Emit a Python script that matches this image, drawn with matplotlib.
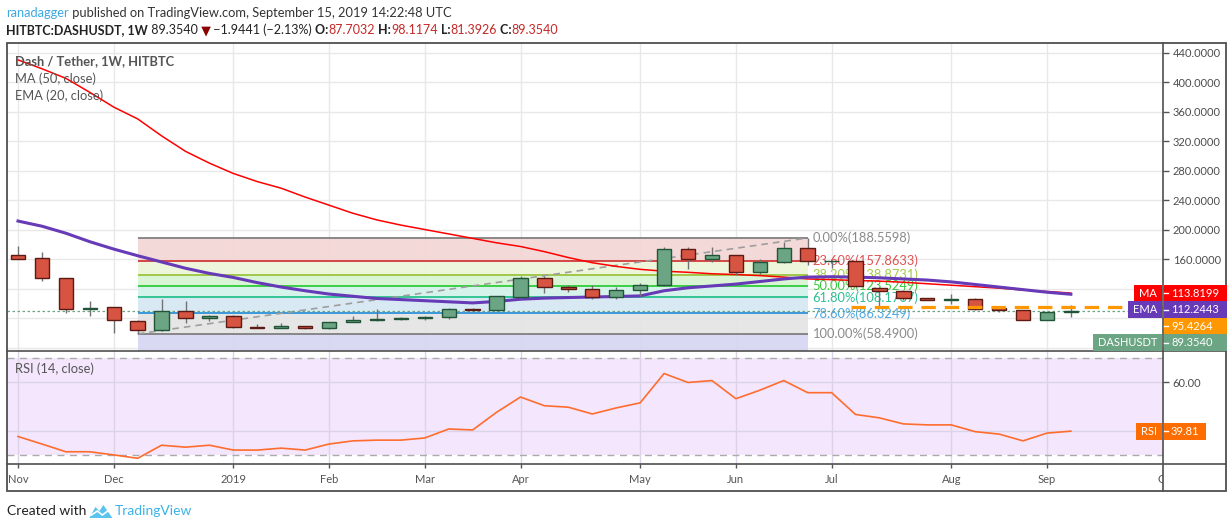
import matplotlib
matplotlib.use("Agg")

import matplotlib.pyplot as plt
import numpy as np
from matplotlib.lines import Line2D
from matplotlib.patches import Polygon, Rectangle
from matplotlib.transforms import Bbox

W, H = 1232, 528

# weekly candles, first bar = week of 5 Nov 2018, last = week of 9 Sep 2019
opens = [165, 161, 134, 92, 94.5, 76, 63.5, 89, 79.5, 82.5,
         67.8, 67, 69, 66, 74, 78, 78.5, 79.5, 81, 92,
         90.5, 109, 134, 121.5, 120, 109, 117.5, 124.5, 173, 160.5,
         165, 142, 155.5, 174.5, 157, 157, 121, 117, 107, 105,
         105.5, 93.5, 90.5, 78, 87.7032]
highs = [177, 169.5, 134.5, 103, 95, 77, 106, 103, 84.5, 84.5,
         72, 73, 69.5, 74.5, 82.5, 92, 82, 82.5, 93, 93.5,
         110, 137.5, 137.5, 125, 124.5, 122.5, 127.5, 176, 176, 176,
         166, 159.5, 183, 188.5598, 159, 158, 122.5, 118, 107.5, 112.5,
         106.5, 94, 91.5, 88, 98.1174]
lows = [159.5, 130.5, 86.5, 83, 60, 58.49, 63, 73.5, 76.5, 67,
        66.5, 66.5, 64.5, 64.5, 74, 76, 77.5, 78, 79, 90,
        89, 107.5, 113.5, 115, 106, 106, 110, 124, 146, 156,
        138.5, 139.5, 154, 152, 148, 122, 96, 105, 104.5, 99,
        90.5, 88.5, 77.5, 77.5, 81.3926]
closes = [160.5, 134, 92, 93.5, 77.3, 63.5, 89, 79.5, 82.5, 67.5,
          67, 69, 66, 74, 78, 78.5, 80, 81, 92, 90.5,
          109.5, 134, 121.5, 119.5, 109, 117.5, 124.5, 173, 160.5, 165,
          142, 155.5, 174.5, 157, 157.3, 123.5, 117, 106.7, 105, 105.5,
          92, 90.5, 78, 87.7, 89.354]

ma50 = [430, 418, 405, 386, 366, 350, 327, 306, 290, 276,
        265, 256, 244, 233, 222, 213, 206, 200, 194, 188,
        182, 177, 170, 162, 155, 150, 146, 143.5, 142, 140,
        139, 137.5, 135.5, 133, 132, 131, 130, 128.5, 126.5, 124.5,
        122.5, 120.5, 118, 116, 113.8199]
ema20 = [211.5, 204.5, 195, 183.5, 173.5, 164.5, 156, 147.5, 140.5, 135,
         128, 122, 117, 112.5, 109.5, 106.5, 105, 103.5, 102, 100.5,
         102.5, 105.5, 107, 107.8, 108.5, 109.2, 110, 117, 121, 123.5,
         126, 129.5, 133, 135.5, 136, 135.5, 134.5, 133, 131.5, 129,
         125.5, 122, 118.5, 115, 112.2443]
rsi14 = [37.6, 34.5, 31.3, 31.3, 30.0, 28.6, 34.0, 33.2, 34.0, 32.0,
         32.0, 32.8, 32.0, 34.5, 35.8, 36.1, 36.1, 37.0, 40.7, 40.3,
         47.6, 53.9, 50.3, 49.7, 46.9, 49.4, 51.5, 63.6, 59.9, 60.7,
         53.2, 56.7, 60.7, 55.7, 55.7, 46.7, 45.3, 42.8, 42.4, 42.4,
         39.6, 38.6, 35.8, 39.0, 39.81]

month_pos = [0, 4, 9, 13, 17, 21, 26, 30, 34, 39, 43]
month_labels = ["Nov", "Dec", "2019", "Feb", "Mar", "Apr", "May", "Jun",
                "Jul", "Aug", "Sep"]

price_ticks = [40, 80, 120, 160, 200, 240, 280, 320, 360, 400, 440]
rsi_ticks = [40, 60]

fib_high = 188.5598
fib_low = 58.49
fib_start, fib_end = 5, 33
fib_ratios = [0, 0.236, 0.382, 0.5, 0.618, 0.786, 1.0, 1.618]
fib_fill = ["#F4D6D6", "#ECF5D8", "#D7F5D3", "#D3F3EA", "#D5E8F4", "#E4E4E4", "#D6D6F3"]
fib_line = ["#808080", "#D23A3A", "#9CC43F", "#2FCC3A", "#27C28F", "#2E92DC", "#808080"]
fib_text = ["#8A8A8A", "#E05252", "#A3CC45", "#38C93A", "#2DBF93", "#4CA6E0", "#8A8A8A"]

support_level = 95.4264
support_from = 34.8

UP, DOWN = "#6BA583", "#D75442"
UP_EDGE, DOWN_EDGE = "#225437", "#5B1A13"

plt.rcParams["font.family"] = ["Lato", "DejaVu Sans"]

fig = plt.figure(figsize=(W / 100, H / 100), dpi=100)
fig.patch.set_facecolor("white")
rend = fig.canvas.get_renderer()


def fx(px):
    return px / W


def fy(py):
    return 1 - py / H


def text_run(x, y, pieces, size):
    for s, color, weight in pieces:
        t = fig.text(fx(x), fy(y), s, color=color, fontsize=size,
                     fontweight=weight, ha="left", va="center")
        x = t.get_window_extent(rend).x1
    return x


def stack_tags(axis, values, gap=16.5):
    # push price tags down so they do not overlap, like the chart scale does
    out = []
    prev = -1e9
    for v in values:
        ypix = H - axis.transData.transform((0, v))[1]
        ypix = max(ypix, prev + gap)
        prev = ypix
        out.append(ypix)
    return out


def visible_labels(axis, ticks, fmt, tag_rows):
    labels = []
    for v in ticks:
        ypix = H - axis.transData.transform((0, v))[1]
        hidden = any(abs(ypix - r) < 13 for r in tag_rows)
        labels.append("" if hidden else fmt.format(v))
    return labels


XLIM = (-0.46, 47.85)

# ---------------- price pane ----------------
ax = fig.add_axes([fx(7), fy(351), (1163 - 7) / W, (351 - 43) / H])
ax.set_xlim(*XLIM)
ax.set_ylim(35.3, 452.9)
for s in ax.spines.values():
    s.set_visible(False)
ax.set_xticks(month_pos)
ax.tick_params(axis="x", length=0, labelbottom=False)
ax.grid(True, color="#E8E8E8", lw=1)
ax.set_axisbelow(True)

tags = [("MA", ma50[-1], "#FF0000"), ("EMA", ema20[-1], "#673AB7"),
        (None, support_level, "#FF9800"), ("DASHUSDT", closes[-1], UP)]
tag_rows = stack_tags(ax, [t[1] for t in tags])

ax.yaxis.tick_right()
ax.set_yticks(price_ticks)
ax.set_yticklabels(visible_labels(ax, price_ticks, "{:.4f}", tag_rows))
ax.tick_params(axis="y", length=4, width=1, color="#555555", labelsize=8,
               labelcolor="#4D4D4D", pad=3)

idx = np.arange(len(closes))
o = np.array(opens)
h = np.array(highs)
l = np.array(lows)
c = np.array(closes)

# fibonacci retracement
levels = fib_high - np.array(fib_ratios) * (fib_high - fib_low)
for k in range(len(levels) - 1):
    ax.fill_between([fib_start, fib_end], levels[k], levels[k + 1],
                    color=fib_fill[k], lw=0, alpha=0.92, zorder=1)
for k in range(len(levels) - 1):
    ax.hlines(levels[k], fib_start, fib_end, color=fib_line[k], lw=1.3, zorder=2)
    ax.text(fib_end + 0.2, levels[k], f"{fib_ratios[k] * 100:.2f}%({levels[k]:.4f})",
            color=fib_text[k], fontsize=9.3, ha="left", va="center", zorder=3)
ax.plot([fib_start, fib_end], [fib_low, fib_high], color="#9E9E9E", lw=1.2,
        ls=(0, (4, 3)), zorder=3)

ax.plot(idx, ma50, color="#FF0000", lw=1.1, zorder=4)
ax.plot(idx, ema20, color="#673AB7", lw=2.2, zorder=4)

up = c >= o
ax.vlines(idx, l, h, color="#737375", lw=1, zorder=5)
ax.bar(idx, np.maximum(np.abs(c - o), 0.5), bottom=np.minimum(o, c), width=0.6,
       color=np.where(up, UP, DOWN), edgecolor=np.where(up, UP_EDGE, DOWN_EDGE),
       linewidth=1, zorder=6)

ax.hlines(support_level, support_from, XLIM[1], color="#FF9800", lw=2.3,
          ls=(0, (4.5, 2.8)), zorder=7)
ax.axhline(closes[-1], color=UP, lw=0.9, ls=(0, (2, 2)), zorder=3)

# ---------------- RSI pane ----------------
ax2 = fig.add_axes([fx(7), fy(464), (1163 - 7) / W, (464 - 351) / H])
ax2.set_xlim(*XLIM)
ax2.set_ylim(26.25, 72.9)
for s in ax2.spines.values():
    s.set_visible(False)
ax2.axhspan(30, 70, color="#F3E6FD", lw=0, zorder=0)
ax2.axhline(70, color="#ABABAB", lw=1, ls=(0, (5, 4)), zorder=1)
ax2.axhline(30, color="#ABABAB", lw=1, ls=(0, (5, 4)), zorder=1)

rsi_rows = stack_tags(ax2, [rsi14[-1]])
ax2.yaxis.tick_right()
ax2.set_yticks(rsi_ticks)
ax2.set_yticklabels(visible_labels(ax2, rsi_ticks, "{:.2f}", rsi_rows))
ax2.tick_params(axis="y", length=4, width=1, color="#555555", labelsize=8,
                labelcolor="#4D4D4D", pad=3)
ax2.set_xticks(month_pos)
ax2.set_xticklabels(month_labels)
ax2.tick_params(axis="x", length=3, width=1, color="#555555", labelsize=8,
                labelcolor="#555555", pad=4)
ax2.grid(True, color="#DDD3E8", lw=1)
ax2.set_axisbelow(True)
ax2.plot(idx, rsi14, color="#FF6D2E", lw=1.2, zorder=3)

# next month label, cut by the price scale
oct_t = ax2.text(48, -0.085, "Oct", transform=ax2.get_xaxis_transform(), fontsize=8,
                 color="#555555", ha="center", va="top")
oct_t.set_clip_box(Bbox.from_extents(7, H - 491, 1163, H - 464))
oct_t.set_clip_on(True)

# ---------------- frame ----------------
fig.add_artist(Rectangle((fx(7), fy(491)), (1226 - 7) / W, (491 - 43) / H,
                         transform=fig.transFigure, fill=False, ec="#4F4F4F", lw=1.3))
for xs, ys in [([7, 1226], [351, 351]), ([7, 1226], [464, 464]), ([1163, 1163], [43, 491])]:
    fig.add_artist(Line2D([fx(v) for v in xs], [fy(v) for v in ys],
                          transform=fig.transFigure, color="#4F4F4F", lw=1.2))


# ---------------- scale tags ----------------
def tag(yc, label, value, color, right_edge):
    t = fig.text(fx(1171), fy(yc), value, color="white", fontsize=8,
                 ha="left", va="center", zorder=4)
    x1 = right_edge if right_edge else t.get_window_extent(rend).x1 + 6
    fig.add_artist(Rectangle((fx(1164), fy(yc + 8.5)), (x1 - 1164) / W, 17 / H,
                             transform=fig.transFigure, fc=color, ec="none", zorder=2.5))
    fig.add_artist(Line2D([fx(1164), fx(1168)], [fy(yc), fy(yc)],
                          transform=fig.transFigure, color="white", lw=1, zorder=3))
    if label:
        lt = fig.text(fx(1157), fy(yc), label, color="white", fontsize=8,
                      ha="right", va="center", zorder=4)
        x0 = lt.get_window_extent(rend).x0 - 5
        fig.add_artist(Rectangle((fx(x0), fy(yc + 8.5)), (1162 - x0) / W, 17 / H,
                                 transform=fig.transFigure, fc=color, ec="none", zorder=2.5))


for (label, v, color), row in zip(tags, tag_rows):
    tag(row, label, f"{v:.4f}", color, 1227)
tag(rsi_rows[0], "RSI", f"{rsi14[-1]:.2f}", "#FF6D00", None)

# ---------------- texts ----------------
text_run(6, 13, [("ranadagger", "#3CA9E0", "normal"),
                 (" published on TradingView.com, September 15, 2019 14:22:48 UTC", "#333333", "normal")], 9.25)
text_run(6, 30, [("HITBTC:DASHUSDT, 1W", "#222222", "bold"),
                 (" 89.3540", "#222222", "normal"),
                 (" ▼", "#8B0000", "normal"),
                 (" −1.9441 (−2.13%)", "#222222", "normal"),
                 (" O:", "#222222", "bold"), ("87.7032", "#C62828", "normal"),
                 (" H:", "#222222", "bold"), ("98.1174", "#C62828", "normal"),
                 (" L:", "#222222", "bold"), ("81.3926", "#C62828", "normal"),
                 (" C:", "#222222", "bold"), ("89.3540", "#C62828", "normal")], 9.0)

fig.text(fx(15), fy(61), "Dash / Tether, 1W, HITBTC", color="#555555", fontsize=9.3,
         fontweight="bold", ha="left", va="center")
fig.text(fx(15), fy(79), "MA (50, close)", color="#555555", fontsize=9.3,
         ha="left", va="center")
fig.text(fx(15), fy(96), "EMA (20, close)", color="#555555", fontsize=9.3,
         ha="left", va="center")
fig.text(fx(15), fy(369), "RSI (14, close)", color="#555555", fontsize=9.3,
         ha="left", va="center")

x_end = text_run(7, 511, [("Created with", "#222222", "normal")], 10)
logo = [(x_end + 3, 518), (x_end + 9, 507), (x_end + 13, 511), (x_end + 17, 505),
        (x_end + 26, 518)]
fig.add_artist(Polygon([(fx(a), fy(b)) for a, b in logo], closed=True,
                       transform=fig.transFigure, fc="#5BC4EE", ec="none"))
fig.add_artist(Line2D([fx(x_end + 5), fx(x_end + 11), fx(x_end + 16), fx(x_end + 24)],
                      [fy(515), fy(511), fy(515), fy(509)],
                      transform=fig.transFigure, color="white", lw=1.2))
text_run(x_end + 28, 511, [("TradingView", "#3BB3E4", "normal")], 10)

fig.savefig("out.png", dpi=100)
